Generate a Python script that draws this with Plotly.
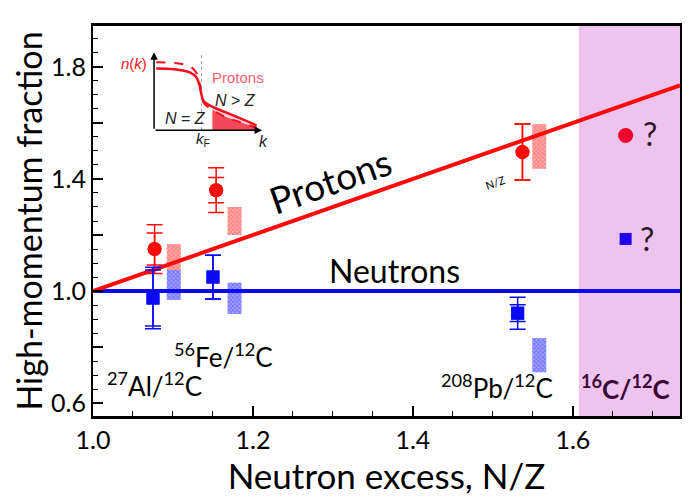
import plotly.graph_objects as go

# ---------------- data ----------------
nuclei = ["27Al/12C", "56Fe/12C", "208Pb/12C"]
nz = [1.077, 1.154, 1.537]
nz_n = [1.075, 1.150, 1.531]

proton_frac = [1.15, 1.36, 1.496]
proton_err_out = [0.087, 0.08, 0.10]
proton_err_in = [0.057, 0.045, 0.10]

neutron_frac = [0.975, 1.05, 0.921]
neutron_err_out = [0.11, 0.078, 0.057]
neutron_err_in = [0.10, 0.078, 0.03]

band_x = [1.101, 1.177, 1.558]
proton_band_lo = [1.071, 1.20, 1.436]
proton_band_hi = [1.168, 1.30, 1.596]
neutron_band_lo = [0.968, 0.918, 0.71]
neutron_band_hi = [1.075, 1.03, 0.832]

c16_x = [1.666]
c16_proton = [1.555]
c16_neutron = [1.186]

line_x = [1.0, 1.734]
proton_line = [1.0, 1.734]   # y = N/Z
neutron_line = [1.0, 1.0]

region_x = [1.6075, 1.734]

# inset schematic n(k)
inset_k = [0.02, 0.19, 0.33, 0.39, 0.42, 0.44, 0.46, 0.54, 0.66, 0.80, 0.95]
inset_solid = [0.79, 0.78, 0.74, 0.68, 0.58, 0.45, 0.37, 0.30, 0.23, 0.15, 0.06]
inset_dashed = [0.87, 0.86, 0.82, 0.74, 0.62, 0.45, 0.35, 0.26, 0.17, 0.10, 0.03]
kF = 0.44
tail_start = 7

RED = "#FF0A0A"
BLUE = "#0A0AF5"
FONT = "Lato"

fig = go.Figure()

# theory bands
fig.add_trace(go.Bar(
    x=band_x, base=proton_band_lo,
    y=[h - l for h, l in zip(proton_band_hi, proton_band_lo)],
    width=0.0175, showlegend=False,
    marker=dict(color="rgba(255,175,175,1)", line=dict(width=0),
                pattern=dict(shape="x", fgcolor="#ff4a4a", size=3, solidity=0.5)),
))
fig.add_trace(go.Bar(
    x=band_x, base=neutron_band_lo,
    y=[h - l for h, l in zip(neutron_band_hi, neutron_band_lo)],
    width=0.0175, showlegend=False,
    marker=dict(color="rgba(165,165,255,1)", line=dict(width=0),
                pattern=dict(shape="x", fgcolor="#3a3aff", size=3, solidity=0.5)),
))

# lines
fig.add_trace(go.Scatter(x=line_x, y=neutron_line, mode="lines",
                         line=dict(color=BLUE, width=4), showlegend=False))
fig.add_trace(go.Scatter(x=line_x, y=proton_line, mode="lines",
                         line=dict(color=RED, width=4), showlegend=False))

# data points with two error bars
fig.add_trace(go.Scatter(
    x=nz, y=proton_frac, mode="markers",
    marker=dict(color=RED, size=14, symbol="circle"),
    error_y=dict(type="data", array=proton_err_out, color=RED, thickness=1.5, width=8),
    showlegend=False))
fig.add_trace(go.Scatter(
    x=nz, y=proton_frac, mode="markers",
    marker=dict(color=RED, size=14, symbol="circle"),
    error_y=dict(type="data", array=proton_err_in, color=RED, thickness=1.5, width=8),
    showlegend=False))
fig.add_trace(go.Scatter(
    x=nz_n, y=neutron_frac, mode="markers",
    marker=dict(color=BLUE, size=13, symbol="square"),
    error_y=dict(type="data", array=neutron_err_out, color=BLUE, thickness=1.5, width=8),
    showlegend=False))
fig.add_trace(go.Scatter(
    x=nz_n, y=neutron_frac, mode="markers",
    marker=dict(color=BLUE, size=13, symbol="square"),
    error_y=dict(type="data", array=neutron_err_in, color=BLUE, thickness=1.5, width=8),
    showlegend=False))

# 16C predictions
fig.add_trace(go.Scatter(x=c16_x, y=c16_proton, mode="markers",
                         marker=dict(color="#F0002A", size=15, symbol="circle"),
                         showlegend=False))
fig.add_trace(go.Scatter(x=c16_x, y=c16_neutron, mode="markers",
                         marker=dict(color="#2200F0", size=12, symbol="square"),
                         showlegend=False))

# ---------------- inset ----------------
tail_k = inset_k[tail_start:]
tail_s = inset_solid[tail_start:]
tail_d = inset_dashed[tail_start:]
fig.add_trace(go.Scatter(
    x=tail_k + tail_k[::-1], y=tail_s + tail_d[::-1], fill="toself",
    fillcolor="rgba(255,170,180,0.6)", line=dict(width=0), mode="lines",
    xaxis="x2", yaxis="y2", showlegend=False, hoverinfo="skip"))
fig.add_trace(go.Scatter(
    x=tail_k + [tail_k[-1], tail_k[0]], y=tail_d + [0, 0], fill="toself",
    fillcolor="rgba(240,40,60,0.85)", line=dict(width=0), mode="lines",
    xaxis="x2", yaxis="y2", showlegend=False, hoverinfo="skip"))
fig.add_trace(go.Scatter(x=[kF, kF], y=[0, 1], mode="lines",
                         line=dict(color="#999", width=1, dash="dot"),
                         xaxis="x2", yaxis="y2", showlegend=False))
fig.add_trace(go.Scatter(x=inset_k, y=inset_dashed, mode="lines",
                         line=dict(color="#F01020", width=2, dash="dash", shape="spline"),
                         xaxis="x2", yaxis="y2", showlegend=False))
fig.add_trace(go.Scatter(x=inset_k, y=inset_solid, mode="lines",
                         line=dict(color="#F01020", width=2.5, shape="spline"),
                         xaxis="x2", yaxis="y2", showlegend=False))

anns = []
# inset axes arrows
anns.append(dict(x=0, y=1.0, ax=0, ay=0, xref="x2", yref="y2", axref="x2", ayref="y2",
                 showarrow=True, arrowhead=2, arrowsize=1, arrowwidth=1.5, arrowcolor="black", text=""))
anns.append(dict(x=1.0, y=0, ax=0, ay=0, xref="x2", yref="y2", axref="x2", ayref="y2",
                 showarrow=True, arrowhead=2, arrowsize=1, arrowwidth=1.5, arrowcolor="black", text=""))
inset_font = "Liberation Sans"
P = dict(xref="paper", yref="paper", showarrow=False, xanchor="center", yanchor="middle")
anns += [
    dict(x=0.095, y=0.905, text="<i>n</i>(<i>k</i>)", **{**P, "xanchor": "right"},
         font=dict(family=inset_font, size=15, color="#F01020")),
    dict(x=0.247, y=0.867, text="Protons", **P,
         font=dict(family=inset_font, size=15, color="#FF6070")),
    dict(x=0.242, y=0.810, text="<i>N</i> > <i>Z</i>", **P,
         font=dict(family=inset_font, size=16, color="#222")),
    dict(x=0.157, y=0.764, text="<i>N</i> = <i>Z</i>", **P,
         font=dict(family=inset_font, size=16, color="#222")),
    dict(x=0.187, y=0.708, text="<i>k</i><sub>F</sub>", **P,
         font=dict(family=inset_font, size=15, color="#222")),
    dict(x=0.290, y=0.703, text="<i>k</i>", **P,
         font=dict(family=inset_font, size=16, color="#222")),
]

# main annotations
anns += [
    dict(x=1.296, y=1.396, text="Protons", showarrow=False, textangle=-19.3,
         font=dict(family=FONT, size=37, color="black")),
    dict(x=1.3775, y=1.075, text="Neutrons", showarrow=False,
         font=dict(family=FONT, size=32, color="black")),
    dict(x=1.5025, y=1.389, text="N/Z", showarrow=False, textangle=-19.3,
         font=dict(family=FONT, size=11, color="black")),
    dict(x=1.0775, y=0.668, text="<sup>27</sup>Al/<sup>12</sup>C", showarrow=False,
         font=dict(family=FONT, size=26, color="black")),
    dict(x=1.163, y=0.771, text="<sup>56</sup>Fe/<sup>12</sup>C", showarrow=False,
         font=dict(family=FONT, size=26, color="black")),
    dict(x=1.505, y=0.66, text="<sup>208</sup>Pb/<sup>12</sup>C", showarrow=False,
         font=dict(family=FONT, size=26, color="black")),
    dict(x=1.666, y=0.657, text="<b><sup>16</sup>C/<sup>12</sup>C</b>", showarrow=False,
         font=dict(family=FONT, size=26, color="#3a0836")),
    dict(x=1.696, y=1.564, text="?", showarrow=False,
         font=dict(family=FONT, size=32, color="#2a1a2a")),
    dict(x=1.6925, y=1.186, text="?", showarrow=False,
         font=dict(family=FONT, size=32, color="#2a1a2a")),
]

# page body has an 8px default margin, so margins are shifted to compensate
fig.update_layout(
    width=690, height=503,
    margin=dict(l=85, r=18, t=18, b=95),
    paper_bgcolor="white", plot_bgcolor="white",
    barmode="overlay",
    font=dict(family=FONT, color="black"),
    annotations=anns,
    shapes=[dict(type="rect", xref="x", yref="paper", x0=region_x[0], x1=region_x[1],
                 y0=0, y1=1, fillcolor="#EEC4EE", line=dict(width=0), layer="below")],
    xaxis=dict(range=[1.0, 1.734], tick0=1.0, dtick=0.2, tickformat=".1f",
               ticks="inside", ticklen=10, tickwidth=1.5, tickcolor="black",
               minor=dict(dtick=0.05, ticks="inside", ticklen=5, tickwidth=1.2, tickcolor="black"),
               showline=True, linewidth=3, linecolor="black", mirror=True,
               showgrid=False, zeroline=False, automargin=False,
               tickfont=dict(size=25, family=FONT),
               title=dict(text="Neutron excess, N/Z", font=dict(size=35, family=FONT), standoff=2)),
    yaxis=dict(range=[0.554, 1.946],
               tickvals=[0.6, 0.8, 1.0, 1.2, 1.4, 1.6, 1.8],
               ticktext=["0.6", "", "1.0", "", "1.4", "", "1.8"],
               ticks="inside", ticklen=10, tickwidth=1.5, tickcolor="black",
               minor=dict(dtick=0.05, tick0=0.6, ticks="inside", ticklen=5, tickwidth=1.2, tickcolor="black"),
               showline=True, linewidth=2, linecolor="black", mirror=True,
               showgrid=False, zeroline=False, automargin=False,
               tickfont=dict(size=25, family=FONT),
               title=dict(text="High-momentum fraction", font=dict(size=34, family=FONT), standoff=4)),
    xaxis2=dict(domain=[0.104, 0.288], anchor="y2", range=[0, 1], visible=False),
    yaxis2=dict(domain=[0.733, 0.933], anchor="x2", range=[0, 1], visible=False),
)

fig.write_html("out.html")
